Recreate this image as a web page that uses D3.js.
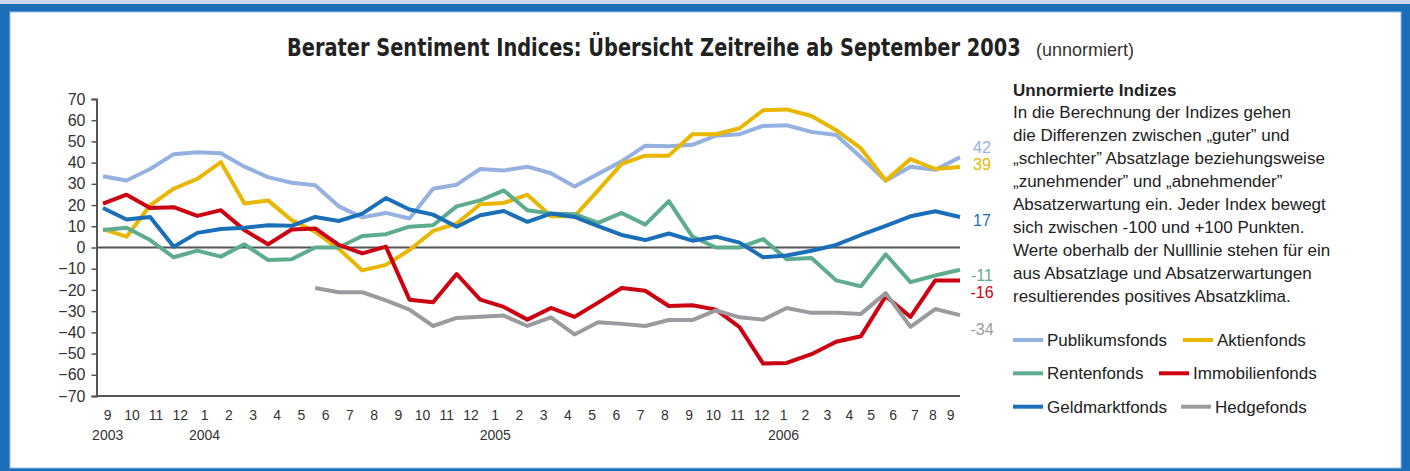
<!DOCTYPE html>
<html>
<head>
<meta charset="utf-8">
<script src="https://cdn.jsdelivr.net/npm/d3@7"></script>
<style>
  body { margin: 0; background: #fff; }
  svg text { font-family: "Liberation Sans", Arial, sans-serif; }
</style>
</head>
<body>
<div id="chart"></div>
<script>
// Month labels, Sept 2003 to Sept 2006
var months = ["9","10","11","12",
  "1","2","3","4","5","6","7","8","9","10","11","12",
  "1","2","3","4","5","6","7","8","9","10","11","12",
  "1","2","3","4","5","6","7","8","9"];
var yearIndex = [0, 4, 16, 28];
var years = ["2003", "2004", "2005", "2006"];

var seriesNames = ["Publikumsfonds", "Aktienfonds", "Rentenfonds", "Immobilienfonds", "Geldmarktfonds", "Hedgefonds"];
var seriesColors = ["#95b1df", "#e9b600", "#5dac8e", "#cc0011", "#1a6fb8", "#9b9b9f"];

var publikum = [33.6, 31.6, 37, 44, 44.9, 44.4, 38.1, 33.2, 30.5, 29.3, 19.4, 14.2, 16.3, 13.7, 27.7, 29.6, 37, 36.3, 38.1, 35,
  28.8, 34.7, 40.6, 48, 47.7, 48.4, 52.7, 53.4, 57.3, 57.6, 54.5, 53, 42.5, 31.5, 38.1, 36.6, 42.5];
var aktien = [8.7, 5.1, 19.9, 27.7, 32.4, 40.2, 20.7, 22.2, 12.9, 7.4, -0.6, -10.8, -8.2, -1.2, 7.8, 11.3, 20.4, 21, 24.9, 14.7,
  14.7, 26.9, 39.4, 43.3, 43.3, 53.4, 53.4, 56.2, 64.7, 65.1, 62, 55.3, 46.7, 31.6, 41.7, 37, 38];
var renten = [8.2, 9.3, 3.5, -4.6, -1.5, -4.3, 1.5, -5.9, -5.5, 0, 0, 5.4, 6.3, 9.8, 10.5, 19.4, 22.2, 26.9, 17.6, 16,
  15.7, 11.6, 16.3, 10.8, 21.9, 5.1, 0, 0, 4, -5.5, -5, -15.5, -18.3, -3.2, -16.3, -13.2, -10.5];
var immo = [20.7, 24.9, 18.6, 19, 14.9, 17.6, 8.2, 1.5, 8.5, 9, 1.2, -2.8, 0.4, -24.6, -25.8, -12.5, -24.6, -28, -34, -28.5,
  -32.7, -26, -19.1, -20.4, -27.6, -27.2, -29.3, -37.5, -54.7, -54.4, -50.3, -44.4, -41.8, -23, -32.7, -15.5, -15.5];
var geldmarkt = [18.6, 13.2, 14.4, 0.4, 6.9, 8.7, 9.3, 10.5, 10.2, 14.4, 12.5, 16, 23.3, 17.9, 15.5, 9.8, 15.2, 17.2, 12.1, 16,
  14.4, 10.1, 5.9, 3.5, 6.6, 3.2, 5.1, 2.3, -4.6, -3.8, -1.5, 1.2, 5.9, 10.2, 14.7, 17.1, 14.4];
var hedge = [null, null, null, null, null, null, null, null, null, -19.1, -21.1, -21.1, -24.9, -29.3, -37, -33.2, -32.7, -32.1, -37, -32.9,
  -41, -35.2, -36, -37, -34.2, -34.2, -29.6, -32.9, -34, -28.5, -30.8, -30.8, -31.3, -21.5, -37.4, -29, -31.9];

// end-of-line labels as printed, and which series each belongs to
var endLabels = [42, 39, 17, -11, -16, -34];
var endLabelSeries = [0, 1, 4, 2, 3, 5];

var yTicks = d3.range(-70, 71, 10);

var introTitle = "Unnormierte Indizes";
var introLines = [
  "In die Berechnung der Indizes gehen",
  "die Differenzen zwischen \u201Eguter\u201D und",
  "\u201Eschlechter\u201D Absatzlage beziehungsweise",
  "\u201Ezunehmender\u201D und \u201Eabnehmender\u201D",
  "Absatzerwartung ein. Jeder Index bewegt",
  "sich zwischen -100 und +100 Punkten.",
  "Werte oberhalb der Nulllinie stehen f\u00FCr ein",
  "aus Absatzlage und Absatzerwartungen",
  "resultierendes positives Absatzklima."
];

function init() {
  var W = 1410, H = 471;
  var allSeries = [publikum, aktien, renten, immo, geldmarkt, hedge];

  var svg = d3.select("#chart").append("svg")
    .attr("width", W)
    .attr("height", H);

  // frame
  svg.append("rect").attr("width", W).attr("height", H).attr("fill", "#cad7ee");
  svg.append("rect").attr("y", 4).attr("width", W).attr("height", H - 4).attr("fill", "#1a6fb8");
  svg.append("rect").attr("x", 10).attr("y", 12).attr("width", 1391).attr("height", 456)
    .attr("fill", "#fff").attr("stroke", "#9cbde3").attr("stroke-width", 1);

  // title, squeezed horizontally to look condensed like the original
  var title = svg.append("text")
    .style("font-family", "'Liberation Sans Narrow', 'DejaVu Sans Condensed', 'Liberation Sans', sans-serif")
    .style("font-weight", "bold").style("font-size", "25px").attr("fill", "#222")
    .text("Berater Sentiment Indices: \u00DCbersicht Zeitreihe ab September 2003");
  var tw = title.node().getComputedTextLength();
  title.attr("transform", "translate(287,56) scale(" + (734 / tw).toFixed(4) + ",1)");

  svg.append("text")
    .attr("x", 1036).attr("y", 56)
    .style("font-size", "18px").attr("fill", "#333")
    .text("(unnormiert)");

  // scales
  var y = d3.scaleLinear().domain([-70, 70]).range([396, 99]);
  var x = d3.scaleLinear().domain([0, 29, 36]).range([103, 786.7, 960]);
  var xLab = d3.scaleLinear().domain([0, 27, 34, 36]).range([107.7, 761.7, 915, 950.7]);
  var x0 = 96.5, x1 = 960;

  // y axis
  var yAxis = d3.axisLeft(y).tickValues(yTicks).tickSize(5).tickPadding(6);
  var gy = svg.append("g").attr("transform", "translate(" + x0 + ",0)").call(yAxis);
  gy.select(".domain").attr("stroke", "#555").attr("stroke-width", 2);
  gy.selectAll(".tick line").attr("stroke", "#555").attr("stroke-width", 1.5);
  gy.selectAll(".tick text").style("font-size", "16px").attr("fill", "#333")
    .style("font-family", "'Liberation Sans', Arial, sans-serif");

  // bottom axis line and zero line
  svg.append("line").attr("x1", x0).attr("x2", x1).attr("y1", y(-70)).attr("y2", y(-70))
    .attr("stroke", "#555").attr("stroke-width", 2);
  svg.append("line").attr("x1", x0).attr("x2", x1).attr("y1", y(0)).attr("y2", y(0))
    .attr("stroke", "#555").attr("stroke-width", 2);

  // month and year labels
  svg.append("g").selectAll("text").data(months).join("text")
    .attr("x", (d, i) => xLab(i)).attr("y", 420)
    .attr("text-anchor", "middle").style("font-size", "14px").attr("fill", "#333")
    .text(d => d);
  svg.append("g").selectAll("text").data(years).join("text")
    .attr("x", (d, i) => xLab(yearIndex[i])).attr("y", 439.5)
    .attr("text-anchor", "middle").style("font-size", "14px").attr("fill", "#333")
    .text(d => d);

  // lines
  var line = d3.line()
    .defined(d => d != null)
    .x((d, i) => x(i))
    .y(d => y(d));

  svg.append("g").selectAll("path").data(allSeries).join("path")
    .attr("d", line)
    .attr("fill", "none")
    .attr("stroke", (d, i) => seriesColors[i])
    .attr("stroke-width", 4)
    .attr("stroke-linejoin", "round");

  // end labels (nudged apart where they would collide)
  var nudge = [-11.5, 0, 8.5, 5, 11, 10];
  svg.append("g").selectAll("text").data(endLabels).join("text")
    .attr("x", 982).attr("y", (d, i) => y(d) + nudge[i])
    .attr("dy", "0.35em").attr("text-anchor", "middle")
    .style("font-size", "16px").attr("fill", (d, i) => seriesColors[endLabelSeries[i]])
    .text(d => d);

  // explanatory text
  var tx = 1013;
  svg.append("text").attr("x", tx).attr("y", 95.5)
    .style("font-size", "17px").style("font-weight", "bold").attr("fill", "#222")
    .text(introTitle);
  svg.append("g").selectAll("text").data(introLines).join("text")
    .attr("x", tx).attr("y", (d, i) => 95.5 + 22.9 * (i + 1))
    .style("font-size", "17px").attr("fill", "#222")
    .text(d => d);

  // legend: two columns, three rows
  var rowY = [340, 373.3, 406.7];
  var col2X = [1183, 1159, 1181];
  var legend = svg.append("g").selectAll("g").data(seriesNames).join("g")
    .attr("transform", function (d, i) {
      var r = Math.floor(i / 2), c = i % 2;
      return "translate(" + (c === 0 ? 1013 : col2X[r]) + "," + rowY[r] + ")";
    });
  legend.append("line").attr("x1", 0).attr("x2", 30)
    .attr("stroke", (d, i) => seriesColors[i]).attr("stroke-width", 4);
  legend.append("text").attr("x", 34).attr("dy", "0.35em")
    .style("font-size", "17px").attr("fill", "#222")
    .text(d => d);
}

init();
</script>
</body>
</html>
